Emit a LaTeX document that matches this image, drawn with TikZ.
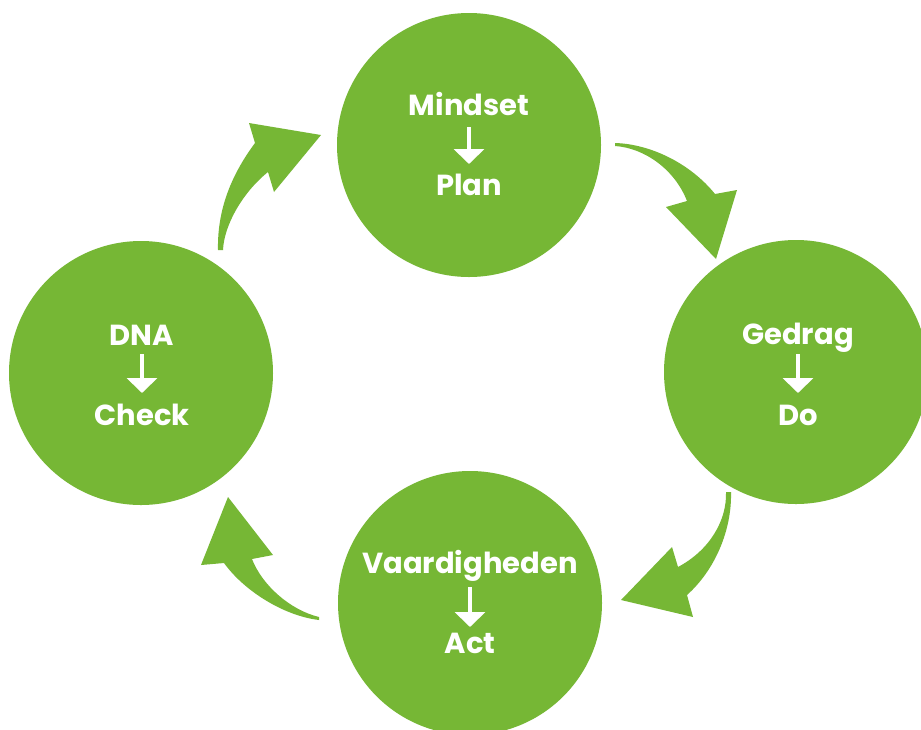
\documentclass[tikz,border=0pt]{standalone}
\usepackage{fontspec}
\setmainfont{Poppins}
\usetikzlibrary{arrows.meta}
\definecolor{leaf}{RGB}{118,183,53}
\tikzset{
  disc/.style={circle, fill=leaf, minimum size=264pt, inner sep=0pt},
  word/.style={text=white, font=\fontsize{29}{29}\selectfont\bfseries, anchor=base, inner sep=0pt},
  flow/.style={fill=leaf},
  downarrow/.style={white, line width=4pt, -{Triangle[width=30pt,length=15pt]}},
}
\begin{document}
\begin{tikzpicture}[x=1pt,y=-1pt]
\useasboundingbox (0,0) rectangle (921,729);
\clip (0,0) rectangle (921,729);
\fill[white] (0,0) rectangle (921,729);
% circles
\node[disc] (plan) at (469,145) {};
\node[disc] (do) at (796,372) {};
\node[disc] (act) at (470,603) {};
\node[disc] (check) at (141,373) {};
% texts
\node[word] (t1) at (469,115) {Mindset};
\coordinate (a1s) at (469,127); \coordinate (a1e) at (469,164);
\draw[downarrow] (a1s) -- (a1e);
\node[word] (t2) at (469,195) {Plan};
\node[word] (t3) at (798,344) {Gedrag};
\coordinate (a2s) at (798,354); \coordinate (a2e) at (798,393);
\draw[downarrow] (a2s) -- (a2e);
\node[word] (t4) at (798,425) {Do};
\node[word] (t5) at (470,573) {Vaardigheden};
\coordinate (a3s) at (470,587); \coordinate (a3e) at (470,627);
\draw[downarrow] (a3s) -- (a3e);
\node[word] (t6) at (470,653) {Act};
\node[word] (t7) at (142,345) {DNA};
\coordinate (a4s) at (142,354); \coordinate (a4e) at (142,393);
\draw[downarrow] (a4s) -- (a4e);
\node[word] (t8) at (142,425) {Check};
% curved arrows
% check -> plan
\fill[flow] (218,250) .. controls (217,205) and (235,170) .. (255,143)
  -- (249,123) -- (321,135) -- (274,192) -- (268,172)
  .. controls (243,192) and (224,225) .. (223,250) -- cycle;
% plan -> do
\fill[flow] (615,143) .. controls (650,144) and (690,163) .. (715,194)
  -- (737,190) -- (716,259) -- (666,207) -- (687,201)
  .. controls (675,170) and (645,148) .. (615,146) -- cycle;
% do -> act
\fill[flow] (731,492) .. controls (732,530) and (715,570) .. (687,595)
  -- (693,617) -- (621,600) -- (672,547) -- (678,567)
  .. controls (710,550) and (727,520) .. (726,492) -- cycle;
% act -> check
\fill[flow] (319,620) .. controls (285,616) and (245,592) .. (224,563)
  -- (201,565) -- (228,497) -- (273,555) -- (252,559)
  .. controls (262,585) and (290,610) .. (319,617) -- cycle;
\end{tikzpicture}
\end{document}
